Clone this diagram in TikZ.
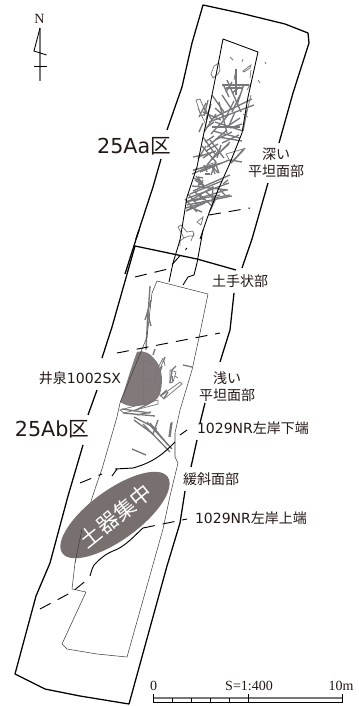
\documentclass[tikz,border=0pt]{standalone}
\usepackage{fontspec}
\setmainfont{DejaVu Sans}
\newfontfamily\jpfont{Noto Sans CJK JP}
\newfontfamily\scalefont{Liberation Serif}
\definecolor{woodgray}{HTML}{77777A}
\definecolor{pitgray}{HTML}{82797A}
\definecolor{massgray}{HTML}{78706E}
\definecolor{labelink}{HTML}{231815}
\newcommand{\jp}[1]{{\jpfont #1}}
\begin{document}
\begin{tikzpicture}[x=0.75pt,y=-0.75pt,
    outline/.style={draw=black,line width=0.95pt,line join=round},
    trench/.style={draw=black,line width=0.65pt,line join=round},
    trenchfine/.style={draw=black!75,line width=0.4pt,line join=round},
    edgeline/.style={draw=black,line width=0.7pt,dash pattern=on 9pt off 6pt},
    wood/.style={draw=woodgray,line width=1pt},
    woodfine/.style={draw=woodgray,line width=0.55pt},
    label/.style={text=labelink,font=\fontsize{10.5pt}{12.5pt}\selectfont,align=center,inner sep=0pt},
    arealabel/.style={text=labelink,font=\fontsize{15.5pt}{18pt}\selectfont,inner sep=0pt},
    scalelabel/.style={text=labelink,font=\fontsize{10.5pt}{12pt}\scalefont,inner sep=0pt}]

  \useasboundingbox (0,0) rectangle (358,706);

  % upper survey area
  \path[outline] (167,130) -- (182,87) -- (192,43) -- (203,5) -- (240,13) -- (285,24) -- (308,33)
    -- (309,43) -- (293,93) -- (279,143);
  \path[outline] (161,159) -- (153,187) -- (136,239);
  \path[outline] (268,183) -- (252,239) -- (242,268);
  \path[outline] (139,230) -- (125,274);

  % lower survey area
  \path[outline] (236,270) -- (197,259) -- (135,246) -- (112,327) -- (102,358);
  \path[outline] (97,390) -- (88,415);
  \path[outline] (83,445) -- (68,496) -- (50,563) -- (36,596) -- (15,674) -- (45,689)
    -- (80,696) -- (129,704) -- (167,566) -- (180,523) -- (185,491);
  \path[outline] (234,293) -- (230,330) -- (220,362);
  \path[outline] (205,403) -- (200,423);
  \path[outline] (197,440) -- (191,467);

  % wood scatter, upper trench
  \foreach \xa/\ya/\xb/\yb in {
    236/69/236/95, 227/80/241/112, 222/85/249/85, 244/84/237/105, 240/87/232/93,
    223/84/229/97, 219/102/227/133, 212/95/224/112, 208/100/204/116, 203/112/221/120,
    199/117/206/103, 213/118/252/99, 209/122/254/105, 247/110/243/131, 235/112/228/128,
    211/104/206/120, 216/114/204/132, 220/124/211/134, 225/119/234/101,
    212/127/240/127, 215/122/243/131, 213/131/240/138, 218/137/242/141, 203/137/215/154,
    210/140/224/158, 207/147/227/130, 206/151/218/144, 202/146/216/162, 230/128/242/124,
    222/143/239/135, 211/160/229/144, 207/165/220/149, 198/159/206/146, 203/123/199/132,
    198/157/216/151, 217/158/221/145, 200/172/229/160, 193/170/222/163, 215/162/219/173,
    192/174/216/164, 212/166/218/173, 196/176/204/186, 198/177/203/178, 194/178/203/183,
    231/163/243/150, 234/160/245/148, 230/160/242/162, 193/157/203/155, 210/174/205/174,
    195/180/204/186, 198/184/203/185,
    207/172/204/165, 211/175/216/162, 215/174/212/166,
    193/191/230/175, 190/194/222/181, 188/198/229/183, 188/201/220/195, 192/186/228/190,
    187/202/226/190, 187/205/232/196, 186/203/213/187, 186/208/213/200, 186/211/205/203,
    185/199/197/212, 193/201/205/198, 187/210/198/206, 214/198/230/195, 215/200/210/211,
    213/186/212/203, 198/186/203/180, 223/184/228/180, 198/177/203/185,
    226/88/243/88, 232/82/226/92, 240/95/232/112, 222/95/232/110, 215/108/224/116,
    204/108/212/120, 228/115/220/125, 240/118/228/126, 215/140/232/132, 205/142/214/136,
    206/128/214/122, 203/158/212/152, 222/150/230/142, 188/194/198/205, 195/192/204/200,
    200/195/212/206, 206/192/216/200, 220/190/226/196, 190/207/202/212 }
    \draw[wood] (\xa,\ya) -- (\xb,\yb);
  \foreach \xa/\ya/\xb/\yb in {
    230/57/233/60, 243/59/242/62, 265/62/266/64, 258/80/260/83, 251/70/250/78,
    236/69/234/80, 251/83/247/90, 251/95/246/115, 243/114/248/117, 198/108/206/125 }
    \draw[woodfine] (\xa,\ya) -- (\xb,\yb);
  \path[woodfine] (211,74) -- (214,66) -- (219,63) -- (220,70) -- (218,74) -- (213,78) -- cycle;
  \path[woodfine] (243,71) -- (251,65) -- (250,68) -- (244,72) -- cycle;
  \path[woodfine] (196,100) -- (200,99) -- (206,113) -- (201,116) -- cycle;
  \path[woodfine] (226,154) -- (243,149) -- (243,151) -- (231,163) -- cycle;
  \path[woodfine] (193,171) -- (213,163) -- (213,165) -- (195,170) -- cycle;
  \path[woodfine] (197,222) -- (203,217) -- (201,225) -- cycle;
  \path[woodfine] (178,227) -- (181,225) -- (187,232) -- (193,231) -- (194,236) -- (189,236)
    -- (184,238) -- cycle;
  \path[woodfine] (184,238) -- (180,241) -- (180,246);
  \path[woodfine] (194,233) -- (191,241);

  % pit
  \fill[pitgray] (137,352) .. controls (145,350) and (150,353) .. (157,362)
    .. controls (163,372) and (163,382) .. (160,394)
    .. controls (155,405) and (145,405) .. (137,406)
    .. controls (130,407) and (125,405) .. (120,402)
    .. controls (125,390) and (130,370) .. (137,352) -- cycle;
  \path[woodfine] (143,360) -- (143,404);
  \path[woodfine] (143,360) -- (156,366) -- (155,385);
  \path[woodfine] (143,382) -- (157,376);
  \path[woodfine] (143,382) -- (150,392);

  % wood scatter, lower trench
  \foreach \xa/\ya/\xb/\yb in {
    150/286/148/315, 148/310/146/350, 151/300/145/320, 148/315/151/326,
    155/349/153/355, 165/357/163/362, 172/371/170/383, 176/366/171/371,
    183/365/192/367, 160/372/162/366, 161/376/159/392, 160/396/167/390,
    164/398/168/392, 122/409/150/413, 123/413/155/416, 134/411/150/403,
    137/415/151/412, 134/417/157/429, 134/420/153/434, 143/424/170/452,
    147/422/172/449, 150/423/168/445, 132/449/146/455, 158/420/153/434,
    172/422/170/437, 169/437/171/423 }
    \draw[wood] (\xa,\ya) -- (\xb,\yb);
  \foreach \xa/\ya/\xb/\yb in {
    163/358/158/368, 164/361/165/366, 163/362/158/373, 178/378/175/376, 172/382/172/376 }
    \draw[woodfine] (\xa,\ya) -- (\xb,\yb);
  \path[woodfine] (161,396) -- (180,382) -- (182,384) -- (164,399) -- cycle;
  \path[woodfine] (170,370) -- (176,372) -- (173,382) -- (170,383) -- cycle;
  \path[woodfine] (120,410) -- (158,400) -- (158,404) -- (124,413) -- cycle;

  % trenches
  \path[trench] (169,282) -- (173,263) -- (180,240) -- (187,197) -- (197,167) -- (203,137)
    -- (209,110) -- (217,70) -- (223,39) -- (258,52) -- (248,97) -- (242,133) -- (230,163)
    -- (218,190) -- (209,213) -- (200,239);
  \path[trench] (203,230) -- (197,263) -- (194,275) -- (188,277) -- (183,285);
  \path[trenchfine] (157,281) -- (208,294) -- (200,333) -- (192,370) -- (180,410) -- (175,433)
    -- (175,457) -- (178,463) -- (170,496) -- (163,529) -- (127,657) -- (97,654) -- (67,649)
    -- (62,644) -- (86,592) -- (72,589) -- (75,563) -- (82,529) -- (97,483) -- (102,469)
    -- (117,417) -- (120,403) -- (147,337) -- (152,293) -- cycle;

  % slope breaks
  \path[edgeline] (209,215) -- (250,208);
  \path[edgeline] (135,277) -- (168,269) -- (187,248);
  \path[edgeline] (117,353) -- (220,333);
  \path[edgeline] (180,435) -- (187,430);
  \path[edgeline] (80,483) -- (102,474);
  \path[edgeline] (40,609) -- (72,592) -- (88,579);
  \path[edgeline] (143,528) -- (187,519);
  \draw[black,line width=0.7pt] (175,442) .. controls (165,452) and (155,462) .. (133,468)
    -- (115,469);
  \draw[black,line width=0.7pt] (112,476) -- (117,469);

  % pottery concentration
  \fill[massgray,rotate around={36:(115,515)}] (115,515) ellipse [x radius=65,y radius=25];
  \node[white,font=\fontsize{16pt}{16pt}\jpfont,rotate=39,inner sep=0pt] (mass) at (116,516) {土器集中};
  \draw[black,line width=0.7pt] (90,576) .. controls (92,570) and (92,566) .. (97,562)
    .. controls (103,556) and (108,553) .. (113,551) .. controls (125,547) and (135,535) .. (143,528);
  \path[trenchfine] (82,529) -- (75,563);

  % labels
  \node[arealabel] (areaa) at (134,146) {25Aa\jp{区}};
  \node[arealabel] (areab) at (52,429) {25Ab\jp{区}};
  \node[label] (deep) at (276,163) {\jp{深い}\\\jp{平坦面部}};
  \node[label] (bank) at (240,281) {\jp{土手状部}};
  \node[label] (well) at (80,378) {\jp{井泉}1002SX};
  \node[label] (shallow) at (227,387) {\jp{浅い}\\\jp{平坦面部}};
  \node[label] (lower) at (253,428) {1029NR\jp{左岸下端}};
  \node[label] (gentle) at (211,479) {\jp{緩斜面部}};
  \node[label] (upper) at (251,518) {1029NR\jp{左岸上端}};

  % north arrow
  \node[scalelabel] (north) at (39.5,19) {N};
  \coordinate (ntop) at (40,28);
  \draw[woodgray,line width=1pt] (ntop) -- (40,81);
  \draw[black,line width=0.65pt] (ntop) -- (34,51) -- (46.5,55);
  \draw[black,line width=0.65pt] (34,66) -- (47,66);

  % scale
  \draw[woodgray,line width=1.1pt] (153.5,698) -- (342,698);
  \draw[black,line width=0.8pt] (153.5,702.5) -- (342,702.5);
  \foreach \xa in {172,191,210,229}
    \draw[black,line width=0.5pt] (\xa,698) -- (\xa,702.5);
  \foreach \xa in {153.5,248,342}
    \draw[black,line width=0.6pt] (\xa,694) -- (\xa,703);
  \node[scalelabel] (szero) at (153.5,686) {0};
  \node[scalelabel] (sratio) at (249,686) {S=1:400};
  \node[scalelabel] (sten) at (341,686) {10m};
\end{tikzpicture}
\end{document}
